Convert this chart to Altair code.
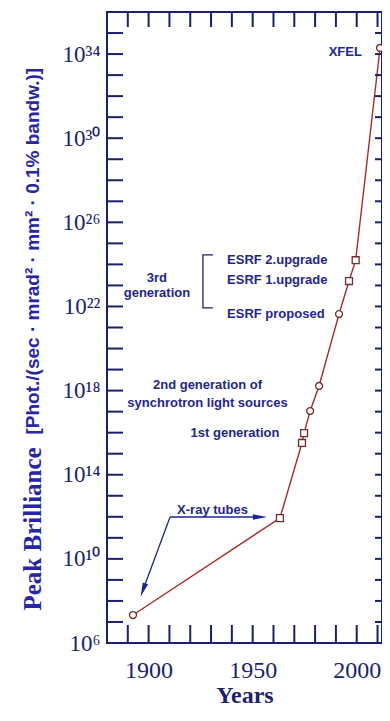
import altair as alt
import pandas as pd

# ---- data ----
years = [1892.5, 1963.1, 1973.7, 1974.7, 1977.6, 1981.9, 1991.5, 1996.3, 1999.5, 2011.2]
exponents = [7.33, 11.94, 15.51, 15.98, 17.03, 18.22, 21.64, 23.21, 24.2, 34.29]
shapes = ["circle", "square", "square", "square", "circle", "circle",
          "circle", "square", "square", "circle"]

x_ticks = list(range(1890, 2011, 10))
x_labelled = [1900, 1950, 2000]
y_tick_exps = list(range(7, 36))
y_label_exps = [6, 10, 14, 18, 22, 26, 30, 34]

left_texts = ["ESRF 2.upgrade", "ESRF 1.upgrade", "ESRF proposed"]
left_years = [1937.7, 1937.7, 1937.7]
left_exps = [24.21, 23.26, 21.64]

center_texts = ["3rd", "generation", "2nd generation of",
                "synchrotron light sources", "1st generation", "X-ray tubes"]
center_years = [1904.0, 1904.0, 1928.3, 1928.3, 1941.5, 1930.7]
center_exps = [23.35, 22.64, 18.27, 17.41, 15.98, 12.32]

right_texts = ["XFEL"]
right_years = [2002.5]
right_exps = [34.10]

bracket_years = [1930.9, 1926.1, 1926.1, 1930.9]
bracket_exps = [24.45, 24.45, 21.93, 21.93]

arrow_start_years = [1910.3, 1910.3]
arrow_start_exps = [11.99, 11.99]
arrow_end_years = [1953.5, 1897.3]
arrow_end_exps = [11.99, 8.52]
arrow_angles = [90, 200.3]

y_title = "Peak Brilliance"
unit_title = "[Phot./(sec \u00b7 mrad\u00b2 \u00b7 mm\u00b2 \u00b7 0.1% bandw.)]"

# ---- styling ----
AXIS_C = "#1a1f6e"
TEXT_C = "#1e2690"
TITLE_C = "#2626a8"
LINE_C = "#a82a2a"
MARK_C = "#7a2a2a"
W, H = 275, 631

SUP = str.maketrans("0123456789", "\u2070\u00b9\u00b2\u00b3\u2074\u2075\u2076\u2077\u2078\u2079")

pts = pd.DataFrame({"year": years, "val": [10 ** e for e in exponents], "shape": shapes})
bracket = pd.DataFrame({"year": bracket_years, "val": [10 ** e for e in bracket_exps],
                        "order": list(range(len(bracket_years)))})
arrows = pd.DataFrame({"year": arrow_start_years, "val": [10 ** e for e in arrow_start_exps],
                       "year2": arrow_end_years, "val2": [10 ** e for e in arrow_end_exps],
                       "ang": arrow_angles})
xt = pd.DataFrame({"v": x_ticks})
yt = pd.DataFrame({"v": [float(10 ** e) for e in y_tick_exps]})

def tdf(t, y, e):
    return pd.DataFrame({"t": t, "year": y, "val": [10 ** v for v in e]})

xscale = alt.Scale(domain=[1880, 2012.15], nice=False, zero=False)
yscale = alt.Scale(type="log", domain=[1e6, 1e36], nice=False)

exp_expr = "round(log(datum.value)/LN10)"
ylab = "''"
for e in reversed(y_label_exps):
    ylab = f"({exp_expr} == {e} ? '10{str(e).translate(SUP)}' : {ylab})"
xlab = " || ".join(f"datum.value == {v}" for v in x_labelled)
xlab = f"({xlab}) ? toString(datum.value) : ''"

no_ticks = dict(ticks=False, tickSize=0, domain=False, grid=False)

bottom_axis = alt.Axis(orient="bottom", values=x_labelled, labelExpr=xlab, labelOverlap=False,
                       labelFlush=False, labelFont="Liberation Serif", labelFontSize=24,
                       labelColor=AXIS_C, labelPadding=15, title="Years",
                       titleFont="Liberation Serif", titleFontSize=24, titleFontWeight="bold",
                       titleColor=AXIS_C, titlePadding=1, **no_ticks)
left_axis = alt.Axis(orient="left", values=[float(10 ** e) for e in y_label_exps],
                     labelExpr=ylab, labelOverlap=False, labelFlush=False,
                     labelFont="Liberation Serif", labelFontSize=23, labelColor=AXIS_C,
                     labelPadding=7, title=y_title, titleFont="Liberation Serif",
                     titleFontSize=25, titleFontWeight="bold", titleColor=TITLE_C,
                     titleAngle=270, titleAlign="left", titleBaseline="alphabetic",
                     titleX=-67, titleY=598, **no_ticks)
top_axis = alt.Axis(orient="top", labels=False, title=unit_title, titleFont="Liberation Sans",
                    titleFontSize=19, titleFontWeight="bold", titleColor=TITLE_C,
                    titleAngle=270, titleAlign="left", titleBaseline="alphabetic",
                    titleX=-69, titleY=422, **no_ticks)
right_axis = alt.Axis(orient="right", labels=False, title=None, **no_ticks)

X = lambda f="year": alt.X(f"{f}:Q", scale=xscale, axis=None)
Y = lambda f="val": alt.Y(f"{f}:Q", scale=yscale, axis=None)

line = alt.Chart(pts).mark_line(color=LINE_C, strokeWidth=1.4).encode(
    x=alt.X("year:Q", scale=xscale, axis=bottom_axis),
    y=alt.Y("val:Q", scale=yscale, axis=left_axis),
)
points = alt.Chart(pts).mark_point(filled=True, fill="white", stroke=MARK_C,
                                   strokeWidth=1.3, size=48, opacity=1).encode(
    x=X(), y=Y(), shape=alt.Shape("shape:N", scale=None),
)
brk = alt.Chart(bracket).mark_line(color=AXIS_C, strokeWidth=1.3).encode(
    x=alt.X("year:Q", scale=xscale, axis=top_axis),
    y=alt.Y("val:Q", scale=yscale, axis=right_axis),
    order="order:Q",
)
arrow_lines = alt.Chart(arrows).mark_rule(color=TEXT_C, strokeWidth=1.3).encode(
    x=X(), y=Y(), x2="year2:Q", y2="val2:Q",
)
arrow_heads = alt.Chart(arrows).mark_point(shape="M0,-1L0.4,1L-0.4,1Z", filled=True,
                                           color=TEXT_C, size=200, opacity=1).encode(
    x=X("year2"), y=Y("val2"), angle=alt.Angle("ang:Q", scale=None),
)

# inward frame ticks
tick_rule = dict(color=AXIS_C, strokeWidth=2)
left_ticks = alt.Chart(yt).mark_rule(**tick_rule).encode(
    y=Y("v"), x=alt.value(0), x2=alt.value(16))
right_ticks = alt.Chart(yt).mark_rule(**tick_rule).encode(
    y=Y("v"), x=alt.value(W - 7), x2=alt.value(W))
top_ticks = alt.Chart(xt).mark_rule(**tick_rule).encode(
    x=X("v"), y=alt.value(0), y2=alt.value(15))
bottom_ticks = alt.Chart(xt).mark_rule(**tick_rule).encode(
    x=X("v"), y=alt.value(H - 18), y2=alt.value(H))

def texts(df, align):
    return alt.Chart(df).mark_text(align=align, baseline="middle", font="Liberation Sans",
                                   fontWeight="bold", fontSize=13, color=TEXT_C).encode(
        x=X(), y=Y(), text="t:N",
    )

chart = alt.layer(
    line, brk, left_ticks, right_ticks, top_ticks, bottom_ticks,
    arrow_lines, arrow_heads, points,
    texts(tdf(left_texts, left_years, left_exps), "left"),
    texts(tdf(center_texts, center_years, center_exps), "center"),
    texts(tdf(right_texts, right_years, right_exps), "right"),
).properties(
    width=W, height=H, autosize="none",
    padding={"left": 99, "top": 4, "right": 0, "bottom": 65},
    background="white",
).configure_view(
    stroke=AXIS_C, strokeWidth=2
)

chart.save("out.html", embed_options={"renderer": "svg", "actions": False})
